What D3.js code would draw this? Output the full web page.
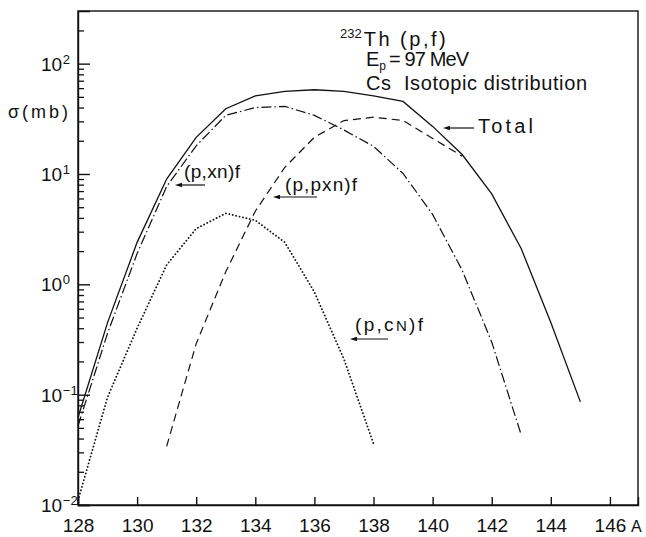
<!DOCTYPE html>
<html>
<head>
<meta charset="utf-8">
<script src="https://cdn.jsdelivr.net/npm/d3@7"></script>
<style>
  html, body { margin: 0; padding: 0; background: #fff; }
  svg { display: block; }
  text { font-family: "Liberation Sans", Arial, sans-serif; fill: #111; }
</style>
</head>
<body>
<svg id="chart" width="646" height="537"></svg>
<script>
// ---- data (mass number A, cross section in mb) ----
const massTotal = [128,129,130,131,132,133,134,135,136,137,138,139,140,141,142,143,144,145];
const sigmaTotal = [0.062,0.45,2.4,9.0,21.5,39,51,56,58,56,51,45.5,27,15,6.6,2.1,0.45,0.086];

const massXn = [128,129,130,131,132,133,134,135,136,137,138,139,140,141,142,143];
const sigmaXn = [0.052,0.36,1.9,7.7,18,34,40,41,34,25,17.8,10.1,4.3,1.34,0.30,0.043];

const massPxn = [131,132,133,134,135,136,137,138,139,140,141];
const sigmaPxn = [0.034,0.29,1.3,4.6,11.5,21.5,30.5,32.7,30.5,21,14.5];

const massCn = [128,129,130,131,132,133,134,135,136,137,138];
const sigmaCn = [0.011,0.095,0.4,1.5,3.2,4.4,3.8,2.4,0.85,0.21,0.036];

const xTicks = [128,130,132,134,136,138,140,142,144,146];
const yMajorTicks = [0.01,0.1,1,10,100];
const yTickExponents = ["-2","-1","0","1","2"];

// ---- layout ----
const svg = d3.select("#chart");
const L = 78, R = 638, T = 11, B = 505;
const x = d3.scaleLinear().domain([128, 146.95]).range([L, R]);
const y = d3.scaleLog().domain([0.01, 300]).range([B, T]);

// minor ticks
const yMinor = [];
for (let e = -2; e <= 2; e++) {
  for (let m = 2; m <= 9; m++) {
    const v = m * Math.pow(10, e);
    if (v < 300) yMinor.push(v);
  }
}

// frame
svg.append("rect").attr("x", L).attr("y", T).attr("width", R - L).attr("height", B - T)
  .attr("fill", "none").attr("stroke", "#111").attr("stroke-width", 1.4);

// y axis major
const gy = svg.append("g").attr("transform", `translate(${L},0)`)
  .call(d3.axisLeft(y).tickValues(yMajorTicks).tickSize(-12).tickPadding(6).tickFormat(""));
gy.select(".domain").attr("stroke", "#111").attr("stroke-width", 1.4);
gy.selectAll(".tick line").attr("stroke", "#111").attr("stroke-width", 1.4);

// y axis minor
const gyMinor = svg.append("g").attr("transform", `translate(${L},0)`)
  .call(d3.axisLeft(y).tickValues(yMinor).tickSize(-6).tickFormat(""));
gyMinor.select(".domain").remove();
gyMinor.selectAll(".tick line").attr("stroke", "#111").attr("stroke-width", 1.3);

// y tick labels with superscripts
yMajorTicks.forEach((v, i) => {
  const t = svg.append("text").attr("x", 41).attr("y", y(v) + 7)
    .attr("font-size", 19);
  t.append("tspan").text("10").attr("textLength", 21).attr("lengthAdjust", "spacing");
  t.append("tspan").text(yTickExponents[i].replace("-", "\u2212"))
    .attr("font-size", 13).attr("dy", -7).attr("dx", 1);
});

// x axis
const gx = svg.append("g").attr("transform", `translate(0,${B})`)
  .call(d3.axisBottom(x).tickValues(xTicks).tickSize(-8).tickPadding(10).tickFormat(d3.format("d")));
gx.select(".domain").attr("stroke", "#111").attr("stroke-width", 1.4);
gx.selectAll(".tick line").attr("stroke", "#111").attr("stroke-width", 1.4);
gx.selectAll(".tick text").attr("font-size", 19).attr("fill", "#111")
  .attr("font-family", "Liberation Sans, Arial, sans-serif").attr("y", 9).attr("dy", "0.95em");

svg.append("text").attr("x", 631).attr("y", 532).attr("font-size", 16).text("A");

// axis title
svg.append("text").attr("x", 8).attr("y", 118).attr("font-size", 18)
  .attr("textLength", 60).attr("lengthAdjust", "spacing").text("\u03C3(mb)");

// ---- curves ----
const line = d3.line().x(d => x(d[0])).y(d => y(d[1]));
function drawSeries(ms, vs, dash, width, cap) {
  svg.append("path").datum(ms.map((m, i) => [m, vs[i]]))
    .attr("d", line).attr("fill", "none").attr("stroke", "#111")
    .attr("stroke-width", width).attr("stroke-dasharray", dash)
    .attr("stroke-linecap", cap || "butt");
}
drawSeries(massTotal, sigmaTotal, null, 1.3);
drawSeries(massXn, sigmaXn, "10,3,1.5,3", 1.2);
drawSeries(massPxn, sigmaPxn, "8,5", 1.2);
drawSeries(massCn, sigmaCn, "0.1,3.4", 1.8, "round");

// ---- annotations ----
function arrow(x1, x2, yy) {
  svg.append("line").attr("x1", x1 + 5).attr("x2", x2).attr("y1", yy).attr("y2", yy)
    .attr("stroke", "#111").attr("stroke-width", 1.2);
  svg.append("path").attr("d", `M${x1},${yy} L${x1 + 7},${yy - 2.2} L${x1 + 7},${yy + 2.2} Z`)
    .attr("fill", "#111");
}

// title block
const t1 = svg.append("text").attr("x", 340).attr("y", 46).attr("font-size", 20);
t1.append("tspan").text("232").attr("font-size", 13).attr("dy", -8);
t1.append("tspan").text("Th (p,f)").attr("dy", 8).attr("dx", 2)
  .attr("textLength", 82).attr("lengthAdjust", "spacing");

const t2 = svg.append("text").attr("x", 366).attr("y", 66).attr("font-size", 20);
t2.append("tspan").text("E");
t2.append("tspan").text("p").attr("font-size", 12).attr("dy", 4).attr("dx", 0);
t2.append("tspan").text("= 97 MeV").attr("dy", -4).attr("dx", 3)
  .attr("textLength", 80).attr("lengthAdjust", "spacing");

svg.append("text").attr("x", 366).attr("y", 90).attr("font-size", 20)
  .attr("textLength", 221).attr("lengthAdjust", "spacing")
  .attr("xml:space", "preserve").text("Cs  Isotopic distribution");

svg.append("text").attr("x", 478).attr("y", 133).attr("font-size", 20)
  .attr("textLength", 55).attr("lengthAdjust", "spacing").text("Total");
arrow(443, 474, 128);

svg.append("text").attr("x", 184).attr("y", 178).attr("font-size", 19)
  .attr("textLength", 56).attr("lengthAdjust", "spacing").text("(p,xn)f");
arrow(175, 205, 185);

svg.append("text").attr("x", 285).attr("y", 191).attr("font-size", 19)
  .attr("textLength", 72).attr("lengthAdjust", "spacing").text("(p,pxn)f");
arrow(273, 317, 197);

const t3 = svg.append("text").attr("x", 355).attr("y", 331).attr("font-size", 19)
  .attr("textLength", 68).attr("lengthAdjust", "spacing");
t3.append("tspan").text("(p,c");
t3.append("tspan").text("N").attr("font-size", 15);
t3.append("tspan").text(")f");
arrow(350, 388, 339);
</script>
</body>
</html>
